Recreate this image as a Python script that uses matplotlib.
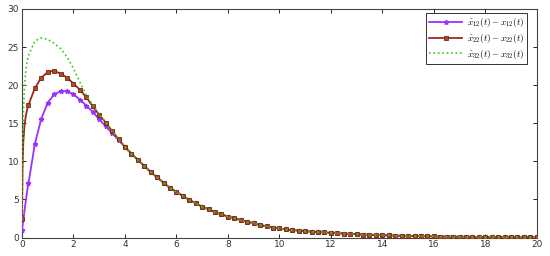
import numpy as np
import matplotlib
matplotlib.use("Agg")
import matplotlib.pyplot as plt

plt.rcParams["mathtext.fontset"] = "cm"

# early extra samples, then a 0.25 grid from 0.25 to 20
t_early = [0.0, 0.02, 0.05, 0.1, 0.15, 0.2]
t_grid = list(np.arange(0.25, 20.001, 0.25))
t = np.array(t_early + t_grid)

tail = [
    11.0, 10.2, 9.4, 8.6, 7.9, 7.2, 6.5, 6.0, 5.45, 4.95, 4.5, 4.05,
    3.7, 3.35, 3.05, 2.75, 2.55, 2.3, 2.05, 1.9, 1.65, 1.48, 1.32, 1.2,
    1.07, 0.98, 0.91, 0.84, 0.78, 0.72, 0.67, 0.62, 0.57, 0.52, 0.48,
    0.44, 0.4, 0.36, 0.33, 0.3, 0.28, 0.26, 0.24, 0.22, 0.2, 0.18, 0.17,
    0.15, 0.14, 0.13, 0.12, 0.11, 0.1, 0.09, 0.085, 0.08, 0.07, 0.065,
    0.06, 0.055, 0.05, 0.045, 0.04, 0.04,
]

err12 = [1.0, 1.5, 2.3, 3.6, 4.9, 6.1,
         7.1, 12.3, 15.6, 17.7, 18.8, 19.2, 19.2, 18.8, 18.1, 17.3, 16.5,
         15.5, 14.6, 13.7, 12.8, 11.9] + tail
err22 = [2.5, 9.0, 12.5, 14.8, 16.0, 16.8,
         17.4, 19.6, 21.0, 21.7, 21.9, 21.5, 21.0, 20.2, 19.4, 18.4, 17.2,
         16.1, 15.1, 14.0, 12.9, 11.9] + tail
err32 = [2.5, 11.0, 16.0, 20.0, 21.9, 23.1,
         23.9, 25.8, 26.2, 26.0, 25.5, 24.8, 23.7, 22.2, 20.4, 18.7, 17.4,
         16.2, 15.15, 14.0, 12.9, 11.9] + tail

labels = [
    r"$\hat{x}_{12}(t)-x_{12}(t)$",
    r"$\hat{x}_{22}(t)-x_{22}(t)$",
    r"$\hat{x}_{32}(t)-x_{32}(t)$",
]

fig = plt.figure(figsize=(5.5, 2.56), dpi=100)
ax = fig.add_axes([0.04, 0.072, 0.936, 0.893])

marks = [i for i, v in enumerate(t) if abs(v * 4 - round(v * 4)) < 1e-6]

ax.plot(t, err12, color="#9B30FF", lw=1.3, marker="*", ms=3.5,
        markevery=marks, label=labels[0], zorder=3)
ax.plot(t, err22, color="#A0281E", lw=1.3, marker="s", ms=3,
        mfc="#B8452A", mec="#6E2A10", mew=0.6,
        markevery=marks, label=labels[1], zorder=4)
ax.plot(t, err32, color="#33CC11", lw=1.2, ls=":", label=labels[2], zorder=5)

ax.set_xlim(0, 20)
ax.set_ylim(0, 30)
ax.set_xticks(range(0, 21, 2))
ax.set_yticks(range(0, 31, 5))
ax.tick_params(direction="in", top=True, right=True, labelsize=6.5,
               length=3, width=0.6, labelcolor="#333333", pad=2)
for s in ax.spines.values():
    s.set_linewidth(0.8)
    s.set_color("#444444")

leg = ax.legend(loc="upper right", bbox_to_anchor=(0.981, 0.983),
                fontsize=6.6, handlelength=3.6,
                fancybox=False, edgecolor="#333333", framealpha=1,
                borderpad=0.35, labelspacing=0.3, handletextpad=0.5,
                borderaxespad=0)
leg.get_frame().set_linewidth(0.7)

fig.savefig("out.png", dpi=100)
